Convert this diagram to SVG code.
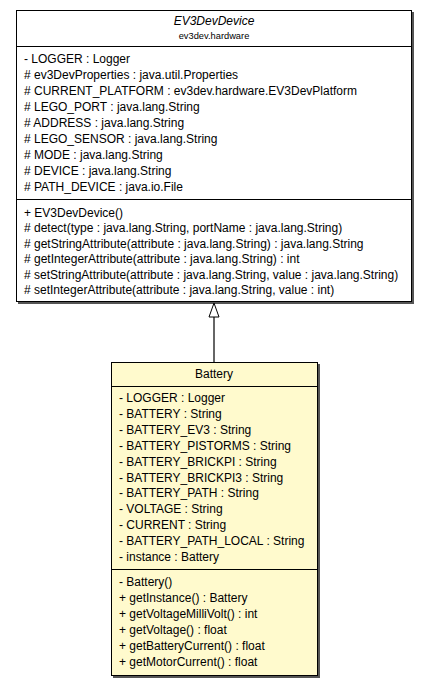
<svg xmlns="http://www.w3.org/2000/svg" width="428" height="685" viewBox="0 0 428 685">
<defs>
<style>
.t{font-family:"Liberation Sans",Arial,sans-serif;font-size:12px;fill:#000}
.c{text-anchor:middle}
.box{stroke:#000;stroke-width:1}
.sh{fill:#555}
.ln{stroke:#000;stroke-width:1}
</style>
<marker id="inh" markerWidth="16" markerHeight="12" refX="15" refY="6" orient="auto" markerUnits="userSpaceOnUse" viewBox="0 0 16 12">
<path d="M15,6 L1,1 L1,11 Z" fill="#fff" stroke="#000" stroke-width="1"/>
</marker>
</defs>
<rect width="428" height="685" fill="#fff"/>
<g id="EV3DevDevice">
<rect class="sh" x="18" y="12" width="396" height="292"/>
<rect class="box" x="16.5" y="10.5" width="395" height="291" fill="#fff"/>
<line class="ln" x1="16.5" y1="46.5" x2="411.5" y2="46.5"/>
<line class="ln" x1="16.5" y1="199.5" x2="411.5" y2="199.5"/>
<text class="t c" x="214" y="25" font-style="italic">EV3DevDevice</text>
<text class="t c" x="214" y="38.5" style="font-size:9.3px">ev3dev.hardware</text>
<text class="t" x="24" y="63">- LOGGER : Logger</text>
<text class="t" x="24" y="79"># ev3DevProperties : java.util.Properties</text>
<text class="t" x="24" y="95"># CURRENT_PLATFORM : ev3dev.hardware.EV3DevPlatform</text>
<text class="t" x="24" y="111"># LEGO_PORT : java.lang.String</text>
<text class="t" x="24" y="127"># ADDRESS : java.lang.String</text>
<text class="t" x="24" y="143"># LEGO_SENSOR : java.lang.String</text>
<text class="t" x="24" y="159"># MODE : java.lang.String</text>
<text class="t" x="24" y="175"># DEVICE : java.lang.String</text>
<text class="t" x="24" y="191"># PATH_DEVICE : java.io.File</text>
<text class="t" x="24" y="217">+ EV3DevDevice()</text>
<text class="t" x="24" y="232.4"># detect(type : java.lang.String, portName : java.lang.String)</text>
<text class="t" x="24" y="247.8"># getStringAttribute(attribute : java.lang.String) : java.lang.String</text>
<text class="t" x="24" y="263.2"># getIntegerAttribute(attribute : java.lang.String) : int</text>
<text class="t" x="24" y="278.6"># setStringAttribute(attribute : java.lang.String, value : java.lang.String)</text>
<text class="t" x="24" y="294"># setIntegerAttribute(attribute : java.lang.String, value : int)</text>
</g>
<g id="Battery">
<rect class="sh" x="113" y="364" width="207" height="314"/>
<rect class="box" x="111.5" y="362.5" width="206" height="313" fill="#fffacd"/>
<line class="ln" x1="111.5" y1="386.5" x2="317.5" y2="386.5"/>
<line class="ln" x1="111.5" y1="569.5" x2="317.5" y2="569.5"/>
<text class="t c" x="214" y="378">Battery</text>
<text class="t" x="119" y="402">- LOGGER : Logger</text>
<text class="t" x="119" y="417.9">- BATTERY : String</text>
<text class="t" x="119" y="433.8">- BATTERY_EV3 : String</text>
<text class="t" x="119" y="449.7">- BATTERY_PISTORMS : String</text>
<text class="t" x="119" y="465.6">- BATTERY_BRICKPI : String</text>
<text class="t" x="119" y="481.5">- BATTERY_BRICKPI3 : String</text>
<text class="t" x="119" y="497.4">- BATTERY_PATH : String</text>
<text class="t" x="119" y="513.3">- VOLTAGE : String</text>
<text class="t" x="119" y="529.2">- CURRENT : String</text>
<text class="t" x="119" y="545.1">- BATTERY_PATH_LOCAL : String</text>
<text class="t" x="119" y="561">- instance : Battery</text>
<text class="t" x="119" y="586">- Battery()</text>
<text class="t" x="119" y="602">+ getInstance() : Battery</text>
<text class="t" x="119" y="618">+ getVoltageMilliVolt() : int</text>
<text class="t" x="119" y="634">+ getVoltage() : float</text>
<text class="t" x="119" y="650">+ getBatteryCurrent() : float</text>
<text class="t" x="119" y="666">+ getMotorCurrent() : float</text>
</g>
<g id="connectors">
<line x1="214" y1="362" x2="214" y2="303" stroke="#333" stroke-width="1.5" marker-end="url(#inh)"/>
</g>
</svg>
